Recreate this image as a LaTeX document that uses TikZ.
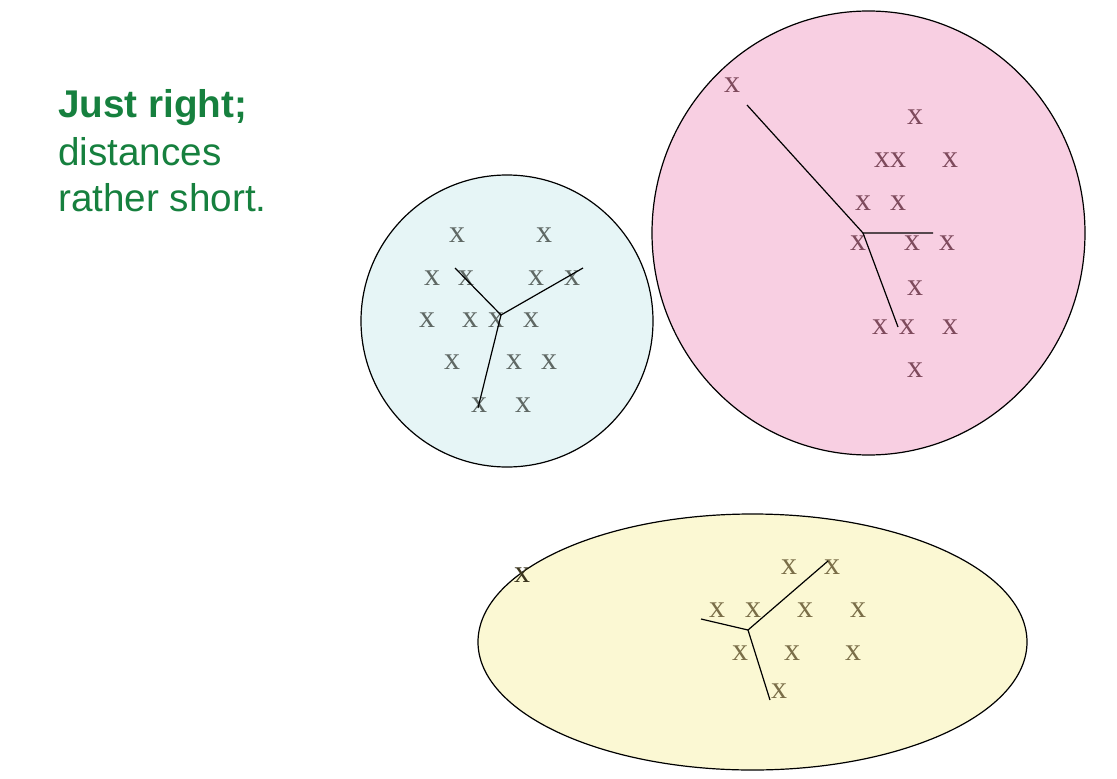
\documentclass[tikz,border=0pt]{standalone}
\usepackage{fontspec}
\setmainfont{Liberation Serif}
\newfontfamily\labelfont{Liberation Sans}
\definecolor{txtgreen}{RGB}{22,128,62}
\definecolor{bluefill}{RGB}{230,245,246}
\definecolor{pinkfill}{RGB}{248,207,226}
\definecolor{yellowfill}{RGB}{251,248,211}
\definecolor{bluex}{RGB}{95,104,100}
\definecolor{pinkx}{RGB}{126,74,92}
\definecolor{yellowx}{RGB}{122,110,72}
\definecolor{darkx}{RGB}{60,54,30}
\tikzset{
  pt/.style={inner sep=0pt, anchor=center, font=\fontsize{24}{24}\selectfont},
  bpt/.style={pt, text=bluex},
  ppt/.style={pt, text=pinkx},
  ypt/.style={pt, text=yellowx},
  cluster/.style={draw=black, line width=0.9pt},
  link/.style={draw=black, line width=0.9pt},
  lbl/.style={inner sep=0pt, anchor=base west, text=txtgreen, font=\labelfont\fontsize{29}{35}\selectfont},
}
\begin{document}
\begin{tikzpicture}[x=0.75pt,y=-0.75pt]
\useasboundingbox (0,0) rectangle (1117,778);
% clusters
\draw[cluster, fill=bluefill] (507,321) circle [x radius=146, y radius=146];
\draw[cluster, fill=pinkfill] (868.5,233) ellipse [x radius=216.5, y radius=222];
\draw[cluster, fill=yellowfill] (752.5,642) ellipse [x radius=274.5, y radius=128];
% label
\node[lbl] (l1) at (58,117) {\bfseries Just right;};
\node[lbl] (l2) at (58,165) {distances};
\node[lbl] (l3) at (58,211) {rather short.};
% blue points
\node[bpt] (b1) at (457,235) {x};
\node[bpt] (b2) at (544,235) {x};
\node[bpt] (b3) at (432,278) {x};
\node[bpt] (b4) at (466,278) {x};
\node[bpt] (b5) at (536,278) {x};
\node[bpt] (b6) at (572,278) {x};
\node[bpt] (b7) at (427,320) {x};
\node[bpt] (b8) at (470,320) {x};
\node[bpt] (b9) at (496,320) {x};
\node[bpt] (b10) at (531,320) {x};
\node[bpt] (b11) at (452,362) {x};
\node[bpt] (b12) at (514,362) {x};
\node[bpt] (b13) at (549,362) {x};
\node[bpt] (b14) at (479,405) {x};
\node[bpt] (b15) at (523,405) {x};
\coordinate (bc) at (501,315);
\coordinate (be1) at (455,268);
\coordinate (be2) at (583,268);
\coordinate (be3) at (478,408);
\draw[link] (be1) -- (bc) -- (be2);
\draw[link] (bc) -- (be3);
% pink points
\node[ppt] (p1) at (732,85) {x};
\node[ppt] (p2) at (915,117) {x};
\node[ppt] (p3) at (882,160) {x};
\node[ppt] (p4) at (898,160) {x};
\node[ppt] (p5) at (950,160) {x};
\node[ppt] (p6) at (863,203) {x};
\node[ppt] (p7) at (898,203) {x};
\node[ppt] (p8) at (858,243) {x};
\node[ppt] (p9) at (912,243) {x};
\node[ppt] (p10) at (947,243) {x};
\node[ppt] (p11) at (915,288) {x};
\node[ppt] (p12) at (880,327) {x};
\node[ppt] (p13) at (907,327) {x};
\node[ppt] (p14) at (950,327) {x};
\node[ppt] (p15) at (915,370) {x};
\coordinate (pc) at (863,233);
\coordinate (pe1) at (747,105);
\coordinate (pe2) at (933,233);
\coordinate (pe3) at (898,327);
\draw[link] (pe1) -- (pc) -- (pe2);
\draw[link] (pc) -- (pe3);
% yellow points
\node[pt, text=darkx] (y0) at (522,575) {x};
\node[ypt] (y1) at (789,567) {x};
\node[ypt] (y2) at (832,567) {x};
\node[ypt] (y3) at (717,610) {x};
\node[ypt] (y4) at (753,610) {x};
\node[ypt] (y5) at (805,610) {x};
\node[ypt] (y6) at (858,610) {x};
\node[ypt] (y7) at (740,653) {x};
\node[ypt] (y8) at (792,653) {x};
\node[ypt] (y9) at (853,653) {x};
\node[ypt] (y10) at (779,691) {x};
\coordinate (yc) at (748,630);
\coordinate (ye1) at (701,619);
\coordinate (ye2) at (828,561);
\coordinate (ye3) at (770,700);
\draw[link] (ye1) -- (yc) -- (ye2);
\draw[link] (yc) -- (ye3);
\end{tikzpicture}
\end{document}
